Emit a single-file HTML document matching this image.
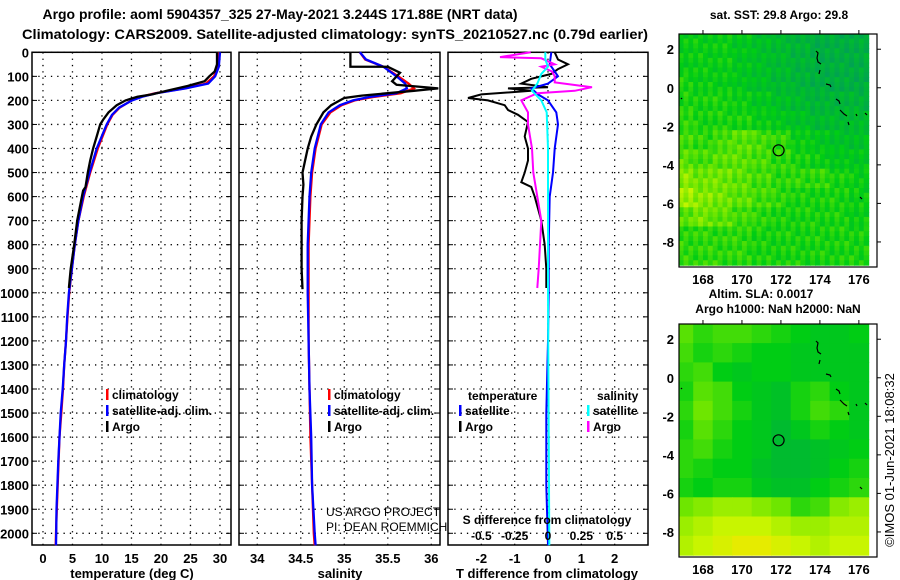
<!DOCTYPE html>
<html><head><meta charset="utf-8">
<style>
html,body{margin:0;padding:0;background:#fff;}
svg{display:block;font-family:"Liberation Sans",sans-serif;}
</style></head>
<body>
<svg id="fig" width="900" height="580" viewBox="0 0 900 580" xmlns="http://www.w3.org/2000/svg">
<text x="280" y="19" font-size="14" font-weight="bold" text-anchor="middle" textLength="475" lengthAdjust="spacingAndGlyphs">Argo profile: aoml 5904357_325 27-May-2021 3.244S 171.88E (NRT data)</text>
<text x="335" y="39" font-size="14" font-weight="bold" text-anchor="middle" textLength="626" lengthAdjust="spacingAndGlyphs">Climatology: CARS2009. Satellite-adjusted climatology: synTS_20210527.nc (0.79d earlier)</text>
<g id="plots"></g>
</svg>
<script>
// ---------- data ----------
const tempDepthArgo = [0,50,80,100,120,140,160,175,185,200,220,250,280,300,350,400,450,500,560,575,600,700,800,900,980];
const tempArgo      = [29.5,29.5,29.1,28.2,27.4,24.5,21,18.5,16,14,12.5,11.1,10.2,9.7,9.1,8.5,8.0,7.6,7.2,6.8,6.6,5.8,5.3,4.7,4.4];
const tempDepthClim = [0,60,100,130,150,170,185,200,230,260,300,400,500,600,700,800,900,1000,1100,1200,1300,1400,1500,1600,1700,1800,1900,2000,2050];
const tempClim      = [29.7,29.6,29.0,27.6,24.0,19.0,16.5,15.0,13.0,11.8,10.9,9.3,8.0,6.9,6.0,5.4,4.9,4.45,4.15,3.9,3.6,3.4,3.1,2.8,2.65,2.5,2.35,2.2,2.15];
const tempSat       = [30.0,29.8,29.2,28.0,24.2,19.2,16.8,15.1,12.9,11.7,10.8,9.1,7.9,6.8,6.0,5.4,4.9,4.4,4.1,3.9,3.6,3.35,3.0,2.8,2.6,2.45,2.3,2.25,2.2];
const salDepthArgo  = [0,60,60.1,85,120,135,150,160,170,180,190,200,220,250,300,350,400,450,500,550,600,700,800,900,985];
const salArgo       = [35.07,35.07,35.5,35.64,35.55,35.6,36.08,35.8,35.5,35.2,35.0,34.95,34.85,34.76,34.68,34.62,34.58,34.55,34.52,34.53,34.52,34.51,34.51,34.51,34.52];
const salDepthClim  = [0,30,60,100,130,150,170,185,200,220,250,300,400,500,600,700,800,1000,1200,1400,1600,1800,2000,2050];
const salClim       = [35.18,35.24,35.45,35.62,35.74,35.8,35.65,35.35,35.12,34.97,34.84,34.74,34.67,34.63,34.61,34.6,34.59,34.59,34.59,34.6,34.61,34.63,34.65,34.66];
const salSat        = [35.18,35.25,35.45,35.6,35.7,35.72,35.6,35.3,35.1,34.95,34.82,34.73,34.66,34.62,34.6,34.59,34.58,34.58,34.59,34.6,34.62,34.63,34.66,34.67];
const dTDepthArgo   = [0,30,50,70,90,110,130,145,150,160,175,190,200,220,240,260,290,350,400,450,500,540,560,600,650,700,800,900,980];
const dTArgo        = [0.2,0.3,0.6,0.3,0.1,-0.5,-0.8,0.0,-1.2,-0.5,-2.0,-2.4,-1.8,-1.3,-1.2,-0.9,-0.6,-0.7,-0.6,-0.6,-0.7,-0.8,-0.5,-0.4,-0.3,-0.2,-0.1,-0.05,-0.05];
const dTDepthSat    = [0,50,80,100,130,150,175,200,250,300,400,500,600,800,1000,1200,1500,1800,2050];
const dTSat         = [0.1,0.05,0.2,0.3,0.0,-0.5,-0.3,0.0,0.25,0.3,0.2,0.15,0.05,0.02,0.02,0.0,-0.05,-0.05,0.0];
const dSDepthArgo   = [0,20,25,50,60,80,100,125,145,160,170,200,250,300,400,500,600,700,800,900,980];
const dSArgo        = [-0.13,-0.36,-0.05,0.05,-0.05,0.03,0.05,0.05,0.33,0.2,-0.08,-0.2,-0.15,-0.15,-0.12,-0.11,-0.08,-0.05,-0.06,-0.07,-0.08];
const dSDepthSat    = [0,30,60,90,130,160,200,250,400,1000,2050];
const dSSat         = [-0.02,-0.02,0.0,-0.05,-0.08,-0.12,-0.05,-0.01,0.0,0.0,0.01];
const depthTicks = [0,100,200,300,400,500,600,700,800,900,1000,1100,1200,1300,1400,1500,1600,1700,1800,1900,2000];
const tempTicks = [0,5,10,15,20,25,30];
const salTicks = [34,34.5,35,35.5,36];
const dTTicks = [-2,-1,0,1,2];
const dSTickVals = [-0.5,-0.25,0,0.25,0.5];
const dSTickLabels = ["-0.5","-0.25","0","0.25","0.5"];
const sstGrid = [
[.45,.45,.45,.4,.35,.3,.25,.2,.2,.2],
[.45,.45,.45,.4,.35,.3,.25,.2,.2,.2],
[.5,.45,.45,.4,.35,.3,.25,.2,.2,.2],
[.5,.5,.5,.45,.4,.35,.3,.25,.25,.25],
[.55,.5,.5,.5,.45,.4,.35,.3,.3,.3],
[.6,.55,.6,.65,.6,.55,.45,.4,.35,.35],
[.65,.6,.65,.65,.6,.55,.5,.45,.4,.4],
[.75,.7,.7,.65,.6,.55,.55,.55,.5,.45],
[.8,.75,.7,.65,.6,.55,.5,.5,.5,.45],
[.65,.7,.65,.6,.55,.5,.5,.5,.5,.45],
[.55,.55,.55,.55,.5,.5,.5,.5,.5,.5],
[.55,.55,.55,.55,.5,.5,.5,.5,.5,.5]];
const slaGrid = [
[.65,.55,.6,.6,.55,.5,.45,.4,.4,.45],
[.6,.5,.55,.5,.45,.45,.4,.4,.4,.4],
[.55,.6,.45,.4,.45,.45,.4,.4,.4,.4],
[.5,.65,.6,.45,.4,.35,.5,.55,.45,.4],
[.55,.7,.6,.5,.4,.35,.5,.6,.55,.4],
[.5,.65,.55,.45,.4,.3,.4,.5,.45,.4],
[.55,.6,.5,.45,.4,.3,.3,.35,.4,.45],
[.55,.5,.45,.45,.35,.3,.3,.35,.45,.5],
[.5,.45,.5,.5,.4,.35,.35,.45,.5,.55],
[.7,.75,.8,.8,.75,.7,.55,.6,.75,.8],
[.8,.85,.9,.9,.9,.85,.8,.8,.85,.85],
[.85,.9,.95,1,1,.95,.9,.85,.9,.9]];
const lonTicks = [168,170,172,174,176];
const latTicks = [2,0,-2,-4,-6,-8];
const argoLon = 171.88, argoLat = -3.244;

// ---------- helpers ----------
const NS = "http://www.w3.org/2000/svg";
const root = document.getElementById('plots');
function mk(tag, attrs, parent){ const e=document.createElementNS(NS,tag); for(const k in attrs) e.setAttribute(k,attrs[k]); (parent||root).appendChild(e); return e; }
const Y0=52.3, Y1=545;
const yD = d => Y0 + d*0.2405;
function panel(x0,x1,vmin,vmax,name){
  const sx = v => x0 + (v-vmin)/(vmax-vmin)*(x1-x0);
  const g = mk('g',{});
  
  
  return {sx,g,x0,x1};
}
function grid(p, xt, labelY){
  depthTicks.forEach(d=>{
    const y=yD(d);
    const l=mk('line',{x1:p.x0,x2:p.x1,y1:y,y2:y,stroke:'#000','stroke-width':1.3,'stroke-dasharray':'1.3 5'},p.g);
    
    
    mk('line',{x1:p.x0,x2:p.x0+5,y1:y,y2:y,stroke:'#000','stroke-width':1},p.g);
    mk('line',{x1:p.x1-5,x2:p.x1,y1:y,y2:y,stroke:'#000','stroke-width':1},p.g);
  });
  xt.forEach(v=>{
    const x=p.sx(v);
    const l=mk('line',{x1:x,x2:x,y1:Y0,y2:Y1,stroke:'#000','stroke-width':1.3,'stroke-dasharray':'1.3 5'},p.g);
    
    
    if(labelY){
      const t=mk('text',{x:x,y:labelY,'font-size':13,'font-weight':'bold','text-anchor':'middle'},p.g);
      t.textContent=String(v);
      
      
    }
  });
  const b=mk('rect',{x:p.x0,y:Y0,width:p.x1-p.x0,height:Y1-Y0,fill:'none',stroke:'#000','stroke-width':1.5},p.g);
  
  
}
function line(p, depths, vals, color, name, w){
  let d='';
  for(let i=0;i<vals.length;i++){ d += (i?'L':'M') + p.sx(vals[i]).toFixed(1)+','+yD(depths[i]).toFixed(1); }
  const e=mk('path',{d:d,fill:'none',stroke:color,'stroke-width':w||2.3,'stroke-linejoin':'miter'},p.g);
  
  
}
function txt(x,y,s,opts,name,parent){
  const t=mk('text',Object.assign({x:x,y:y,'font-size':13,'font-weight':'bold'},opts||{}),parent);
  t.textContent=s;
  
  
  return t;
}
function legend(x,y,color,label,name,parent){
  const m=mk('rect',{x:x,y:y-11,width:2.5,height:11,fill:color},parent);
  
  
  txt(x+6,y-1,label,{'font-size':12},name,parent);
}

// ---------- panel 1 ----------
const p1 = panel(32,231,-1.86,31.87,'temperature-panel');
grid(p1,tempTicks,563);
depthTicks.forEach(d=>txt(29,yD(d)+5,String(d),{'text-anchor':'end'},'y-tick-label',p1.g));
line(p1,tempDepthClim,tempClim,'#ff0000','temperature-climatology-line');
line(p1,tempDepthClim,tempSat,'#0000ff','temperature-satellite-line');
line(p1,tempDepthArgo,tempArgo,'#000000','temperature-argo-line');
legend(106,400,'#ff0000','climatology','legend-climatology',p1.g);
legend(106,416,'#0000ff','satellite-adj. clim.','legend-satellite',p1.g);
legend(106,432,'#000000','Argo','legend-argo',p1.g);
txt(132,578,'temperature (deg C)',{'text-anchor':'middle'},'x-axis-title-temperature',p1.g);

// ---------- panel 2 ----------
const p2 = panel(239,440,33.79,36.1,'salinity-panel');
grid(p2,salTicks,563);
line(p2,salDepthClim,salClim,'#ff0000','salinity-climatology-line');
line(p2,salDepthClim,salSat,'#0000ff','salinity-satellite-line');
line(p2,salDepthArgo,salArgo,'#000000','salinity-argo-line');
legend(328,400,'#ff0000','climatology','legend-climatology-sal',p2.g);
legend(328,416,'#0000ff','satellite-adj. clim.','legend-satellite-sal',p2.g);
legend(328,432,'#000000','Argo','legend-argo-sal',p2.g);
txt(326,516,'US ARGO PROJECT',{'font-weight':'normal','font-size':12},'credit-project',p2.g);
txt(326,531,'PI: DEAN ROEMMICH',{'font-weight':'normal','font-size':12},'credit-pi',p2.g);
txt(340,578,'salinity',{'text-anchor':'middle'},'x-axis-title-salinity',p2.g);

// ---------- panel 3 ----------
const p3 = panel(448,648,-3,3,'difference-panel');
grid(p3,dTTicks,563);
const sxS = v => p3.sx(v*4);
line(p3,dTDepthArgo,dTArgo,'#000000','tdiff-argo-line',2);
line(p3,dTDepthSat,dTSat,'#0000ff','tdiff-satellite-line',2);
line({sx:sxS,g:p3.g},dSDepthArgo,dSArgo,'#ff00ff','sdiff-argo-line',2);
line({sx:sxS,g:p3.g},dSDepthSat,dSSat,'#00ffff','sdiff-satellite-line',2);
txt(468,400,'temperature',{'font-size':12},'legend-title-temperature',p3.g);
txt(597,400,'salinity',{'font-size':12},'legend-title-salinity',p3.g);
legend(459,416,'#0000ff','satellite','legend-t-satellite',p3.g);
legend(459,432,'#000000','Argo','legend-t-argo',p3.g);
legend(587,416,'#00ffff','satellite','legend-s-satellite',p3.g);
legend(587,432,'#ff00ff','Argo','legend-s-argo',p3.g);
txt(547,524,'S difference from climatology',{'text-anchor':'middle','font-size':12},'s-axis-title',p3.g);
dSTickVals.forEach((v,i)=>txt(sxS(v),540,dSTickLabels[i],{'text-anchor':'middle','font-size':12},'s-tick-label',p3.g));
txt(547,578,'T difference from climatology',{'text-anchor':'middle'},'x-axis-title-tdiff',p3.g);

// ---------- maps ----------
function col(v){
  const stops=[[0,[0,150,100]],[0.45,[0,205,20]],[0.7,[110,230,0]],[0.9,[200,245,0]],[1,[230,235,0]]];
  for(let i=1;i<stops.length;i++){
    if(v<=stops[i][0]){
      const a=stops[i-1],b=stops[i],t=(v-a[0])/(b[0]-a[0]);
      return 'rgb('+a[1].map((c,k)=>Math.round(c+(b[1][k]-c)*t)).join(',')+')';
    }
  }
  return 'rgb(230,235,0)';
}
function map(top,gridV,name,speckle){
  const X0=679,X1=877,Y0m=top,Y1m=top+233;
  const LON0=166.77,LON1=176.93,LAT0=2.79,LAT1=-9.3;
  const sx=l=>X0+(l-LON0)/(LON1-LON0)*(X1-X0);
  const sy=l=>Y0m+(LAT0-l)/(LAT0-LAT1)*(Y1m-Y0m);
  const g=mk('g',{});
  
  
  const clip=mk('clipPath',{id:name+'-clip'},g);
  mk('rect',{x:X0,y:Y0m,width:X1-X0,height:Y1m-Y0m},clip);
  const cg=mk('g',{'clip-path':'url(#'+name+'-clip)'},g);
  const sub=speckle?4:1;
  for(let r=0;r<gridV.length;r++){
    for(let c=0;c<gridV[r].length;c++){
      for(let i=0;i<sub;i++)for(let j=0;j<sub;j++){
        let v=gridV[r][c];
        if(speckle){ const h=((r*4+i)*7919+(c*4+j)*104729)%17; v=Math.max(0,Math.min(1,v+(h-8)*0.012)); }
        const lonA=166.5+c+(j/sub), latA=2.8-r-(i/sub);
        const x=sx(lonA), y=sy(latA);
        const w=sx(lonA+1/sub)-x+0.6, hgt=sy(latA-1/sub)-y+0.6;
        mk('rect',{x:x.toFixed(1),y:y.toFixed(1),width:w.toFixed(1),height:hgt.toFixed(1),fill:col(v)},cg);
      }
    }
  }
  const isl=['M816,51 l2,2 -1,5 1,4 3,2','M820,70 l-1,4','M826,84 l4,1 1,2','M836,99 l3,2 1,3','M840,110 l4,4 3,2','M848,122 l1,3','M856,114 l1,2','M865,113 l2,2','M860,197 l2,2','M681,98 l1,1'];
  isl.forEach(d=>{const p=mk('path',{d:d,fill:'none',stroke:'#000','stroke-width':1.2,transform:'translate(0,'+(top-34)+')'},cg);  });
  const circ=mk('circle',{cx:sx(argoLon),cy:sy(argoLat),r:5.5,fill:'none',stroke:'#000','stroke-width':1.2},g);
  
  
  const fr=mk('rect',{x:X0,y:Y0m,width:X1-X0,height:Y1m-Y0m,fill:'none',stroke:'#000','stroke-width':1.2},g);
  
  
  lonTicks.forEach(l=>{
    mk('line',{x1:sx(l),x2:sx(l),y1:Y0m-4,y2:Y0m,stroke:'#000'},g);
    txt(sx(l),Y1m+17,String(l),{'text-anchor':'middle','font-size':13},'map-lon-label',g);
  });
  latTicks.forEach(l=>{
    mk('line',{x1:X1,x2:X1+4,y1:sy(l),y2:sy(l),stroke:'#000'},g);
    txt(674,sy(l)+5,String(l),{'text-anchor':'end','font-size':13},'map-lat-label',g);
  });
}
map(34,sstGrid,'sst-map',true);
map(324,slaGrid,'sla-map',false);
txt(779,19,'sat. SST: 29.8 Argo: 29.8',{'text-anchor':'middle','font-size':12},'sst-map-title');
txt(761,298,'Altim. SLA: 0.0017',{'text-anchor':'middle','font-size':12},'sla-map-title');
txt(778,313,'Argo h1000: NaN h2000: NaN',{'text-anchor':'middle','font-size':12},'sla-map-subtitle');
txt(0,0,'©IMOS 01-Jun-2021 18:08:32',{'font-weight':'normal','font-size':13,'text-anchor':'middle',transform:'translate(894,460) rotate(-90)'},'imos-credit');
</script>
</body></html>
